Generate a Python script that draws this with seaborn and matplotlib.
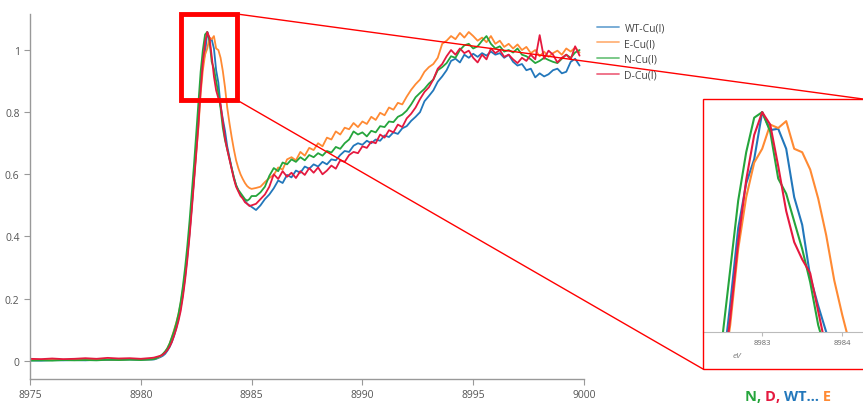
import numpy as np
import pandas as pd
import matplotlib
matplotlib.use('Agg')
import matplotlib.pyplot as plt
import seaborn as sns
from matplotlib.patches import Rectangle, ConnectionPatch

# energy grid (eV): coarse on the flat pre-edge, fine across the edge, medium after
energy = np.round(np.concatenate([np.linspace(8975.0, 8980.5, 12),
                                  np.linspace(8980.6, 8985.0, 45),
                                  np.linspace(8985.2, 8999.8, 74)]), 2)

wt = [0.001, 0.000, 0.002, 0.001, 0.002, 0.001, 0.003, 0.002, 0.003, 0.004, 0.003, 0.004,
      # edge 8980.6 - 8985.0
      0.004, 0.006, 0.009, 0.012, 0.016, 0.022, 0.032, 0.044, 0.060, 0.080,
      0.105, 0.135, 0.170, 0.215, 0.270, 0.335, 0.410, 0.495, 0.585, 0.680,
      0.780, 0.890, 0.955, 0.990, 1.058, 1.032, 1.034, 1.005, 0.935, 0.895,
      0.820, 0.778, 0.740, 0.690, 0.655, 0.620, 0.590, 0.565, 0.548, 0.535,
      0.525, 0.515, 0.505, 0.500, 0.495,
      # 8985.2 - 8999.8
      0.485, 0.500, 0.520, 0.535, 0.555, 0.580, 0.572, 0.598, 0.590, 0.612,
      0.605, 0.625, 0.618, 0.632, 0.625, 0.640, 0.632, 0.648, 0.645, 0.662,
      0.675, 0.672, 0.692, 0.700, 0.695, 0.708, 0.700, 0.712, 0.708, 0.725,
      0.720, 0.735, 0.730, 0.748, 0.755, 0.772, 0.785, 0.800, 0.835, 0.852,
      0.870, 0.898, 0.915, 0.935, 0.965, 0.972, 0.960, 0.985, 0.975, 0.988,
      0.978, 0.990, 0.982, 0.995, 0.985, 0.990, 0.975, 0.985, 0.962, 0.950,
      0.955, 0.935, 0.940, 0.912, 0.925, 0.915, 0.922, 0.935, 0.940, 0.925,
      0.930, 0.962, 0.972, 0.950]

e = [0.002, 0.003, 0.002, 0.003, 0.002, 0.004, 0.003, 0.004, 0.003, 0.005, 0.004, 0.005,
     0.006, 0.008, 0.011, 0.015, 0.020, 0.028, 0.040, 0.055, 0.075, 0.098,
     0.122, 0.150, 0.185, 0.228, 0.280, 0.342, 0.415, 0.498, 0.585, 0.670,
     0.750, 0.860, 0.935, 0.985, 1.005, 1.040, 1.035, 1.045, 1.005, 1.000,
     0.975, 0.933, 0.880, 0.815, 0.765, 0.720, 0.680, 0.645, 0.620, 0.600,
     0.585, 0.572, 0.562, 0.556, 0.553,
     0.556, 0.560, 0.575, 0.588, 0.598, 0.622, 0.615, 0.648, 0.655, 0.645,
     0.672, 0.660, 0.685, 0.678, 0.700, 0.690, 0.718, 0.712, 0.738, 0.728,
     0.750, 0.745, 0.765, 0.752, 0.770, 0.762, 0.785, 0.775, 0.798, 0.790,
     0.815, 0.808, 0.830, 0.825, 0.850, 0.872, 0.890, 0.905, 0.930, 0.945,
     0.955, 0.975, 1.020, 1.030, 1.045, 1.035, 1.055, 1.040, 1.058, 1.045,
     1.030, 1.040, 1.025, 1.045, 1.020, 1.030, 1.010, 1.020, 1.005, 1.018,
     1.000, 1.010, 0.990, 1.000, 0.980, 0.995, 0.978, 0.990, 0.998, 0.985,
     1.005, 0.995, 1.008, 0.992]

n = [0.000, 0.001, 0.000, 0.002, 0.001, 0.002, 0.001, 0.003, 0.002, 0.003, 0.002, 0.004,
     0.005, 0.008, 0.012, 0.016, 0.022, 0.030, 0.040, 0.055, 0.075, 0.095,
     0.120, 0.150, 0.190, 0.240, 0.300, 0.370, 0.450, 0.540, 0.630, 0.730,
     0.830, 0.930, 1.000, 1.050, 1.058, 1.030, 0.962, 0.940, 0.900, 0.860,
     0.812, 0.750, 0.710, 0.680, 0.650, 0.620, 0.590, 0.565, 0.550, 0.540,
     0.530, 0.520, 0.515, 0.520, 0.530,
     0.530, 0.542, 0.560, 0.595, 0.620, 0.610, 0.638, 0.632, 0.648, 0.640,
     0.655, 0.645, 0.662, 0.655, 0.668, 0.660, 0.675, 0.670, 0.688, 0.682,
     0.700, 0.712, 0.738, 0.728, 0.735, 0.722, 0.740, 0.735, 0.755, 0.752,
     0.770, 0.768, 0.785, 0.792, 0.805, 0.825, 0.848, 0.862, 0.875, 0.892,
     0.905, 0.935, 0.945, 0.958, 0.980, 0.975, 1.000, 1.015, 1.020, 1.005,
     1.012, 1.030, 1.045, 1.020, 1.005, 1.012, 0.995, 1.000, 0.992, 1.005,
     0.985, 0.980, 0.970, 0.958, 0.965, 0.975, 0.968, 0.962, 0.958, 0.972,
     0.985, 0.975, 0.992, 1.000]

d = [0.006, 0.005, 0.007, 0.005, 0.006, 0.008, 0.006, 0.009, 0.007, 0.008, 0.006, 0.009,
     0.010, 0.012, 0.014, 0.016, 0.020, 0.026, 0.034, 0.045, 0.060, 0.080,
     0.102, 0.128, 0.160, 0.205, 0.260, 0.325, 0.400, 0.485, 0.575, 0.665,
     0.760, 0.870, 0.960, 1.025, 1.058, 1.040, 0.980, 0.915, 0.870, 0.845,
     0.825, 0.770, 0.715, 0.680, 0.648, 0.615, 0.585, 0.560, 0.545, 0.530,
     0.522, 0.510, 0.505, 0.498, 0.500,
     0.505, 0.520, 0.535, 0.560, 0.600, 0.585, 0.610, 0.592, 0.605, 0.588,
     0.610, 0.598, 0.620, 0.605, 0.622, 0.600, 0.612, 0.628, 0.618, 0.645,
     0.640, 0.662, 0.672, 0.668, 0.690, 0.685, 0.705, 0.700, 0.728, 0.718,
     0.742, 0.735, 0.760, 0.752, 0.780, 0.795, 0.815, 0.842, 0.865, 0.880,
     0.905, 0.940, 0.955, 0.980, 1.000, 0.985, 1.005, 0.990, 0.998, 0.975,
     0.960, 0.985, 0.970, 1.005, 0.990, 1.000, 0.978, 0.985, 0.970, 0.958,
     0.975, 0.965, 0.985, 0.970, 1.048, 0.972, 0.998, 0.985, 0.960, 0.975,
     0.985, 0.970, 1.012, 0.982]

labels = ['WT-Cu(I)', 'E-Cu(I)', 'N-Cu(I)', 'D-Cu(I)']
colors = ['#2277bb', '#ff8a33', '#25a53c', '#e5193f']

df = pd.concat([pd.DataFrame({'eV': energy, 'mu': vals, 'sample': lab})
                for lab, vals in zip(labels, [wt, e, n, d])])

sns.set_style('ticks')
plt.rcParams['font.family'] = ['Open Sans', 'DejaVu Sans']

fig = plt.figure(figsize=(8.63, 4.06), dpi=100)
W, H = 863, 406

# main axes
ax = fig.add_axes([30 / W, 1 - 380 / H, (584 - 30) / W, (380 - 15) / H])
sns.lineplot(data=df, x='eV', y='mu', hue='sample', hue_order=labels,
             palette=colors, linewidth=1.3, ax=ax, legend=False)
ax.set_xlim(8975, 9000)
ax.set_ylim(-0.059, 1.116)
ax.set_xticks(range(8975, 9001, 5))
ax.set_yticks([0, 0.2, 0.4, 0.6, 0.8, 1.0])
ax.set_yticklabels(['0', '0.2', '0.4', '0.6', '0.8', '1'])
ax.set_xlabel('')
ax.set_ylabel('')
for s in ['top', 'right']:
    ax.spines[s].set_visible(False)
for s in ['left', 'bottom']:
    ax.spines[s].set_color('#999999')
    ax.spines[s].set_linewidth(1.0)
ax.tick_params(colors='#999999', labelcolor='#555555', labelsize=7.5, length=4, width=0.8)

# legend
handles = [plt.Line2D([], [], color=c, lw=1.3, alpha=0.65) for c in colors]
fig.legend(handles, labels, loc='upper left', bbox_to_anchor=(588 / W, 1 - 14 / H),
           frameon=False, fontsize=7.5, handlelength=2.1, handletextpad=0.5,
           labelspacing=0.45, labelcolor='#444444')

# zoom window on the peak
x0, x1 = 8981.81, 8984.34
y0, y1 = 0.839, 1.116
ax.add_patch(Rectangle((x0, y0), x1 - x0, y1 - y0, fill=False, edgecolor='red',
                       lw=3.5, clip_on=False, zorder=5))

# inset
ins = fig.add_axes([703 / W, 1 - 333 / H, 160 / W, (333 - 100) / H])
ins.patch.set_alpha(0)
sns.lineplot(data=df, x='eV', y='mu', hue='sample', hue_order=labels,
             palette=colors, linewidth=1.5, ax=ins, legend=False)
ins.set_xlim(8982.26, 8984.26)
ins.set_ylim(0.74, 1.077)
ins.set_xticks([8983, 8984])
ins.set_yticks([])
ins.set_xlabel('')
ins.set_ylabel('')
for s in ['top', 'right', 'left']:
    ins.spines[s].set_visible(False)
ins.spines['bottom'].set_color('#bbbbbb')
ins.tick_params(axis='x', colors='#bbbbbb', labelcolor='#666666', labelsize=5.5,
                length=3, width=0.8, pad=2)
fig.text(737 / W, 1 - 357 / H, 'eV', fontsize=6, color='#777777', style='italic',
         ha='center', va='center')

fig.patches.append(Rectangle((703 / W, 1 - 370 / H), 0.2, (370 - 100) / H,
                             transform=fig.transFigure, fill=False,
                             edgecolor='red', lw=1.0, zorder=6))

# connector lines
for xyA, xyB in [((x1, y1), (1.0, 1 - 100 / H)), ((x1, y0), (703 / W, 1 - 370 / H))]:
    con = ConnectionPatch(xyA=xyA, coordsA='data', axesA=ax,
                          xyB=xyB, coordsB='figure fraction',
                          color='red', lw=1.0, zorder=4)
    fig.add_artist(con)

# ordering note
parts = [('N', '#25a53c'), (', ', '#25a53c'), ('D', '#e5193f'), (', ', '#e5193f'),
         ('WT…', '#2277bb'), (' E', '#ff8a33')]
t = fig.text(745 / W, 1 - 397 / H, parts[0][0], color=parts[0][1], fontsize=10.5,
             fontweight='bold', va='center', ha='left')
for txt, c in parts[1:]:
    t = ax.annotate(txt, xy=(1, 0), xycoords=t, va='bottom', ha='left',
                    color=c, fontsize=10.5, fontweight='bold', annotation_clip=False)

fig.savefig('out.png', dpi=100)
